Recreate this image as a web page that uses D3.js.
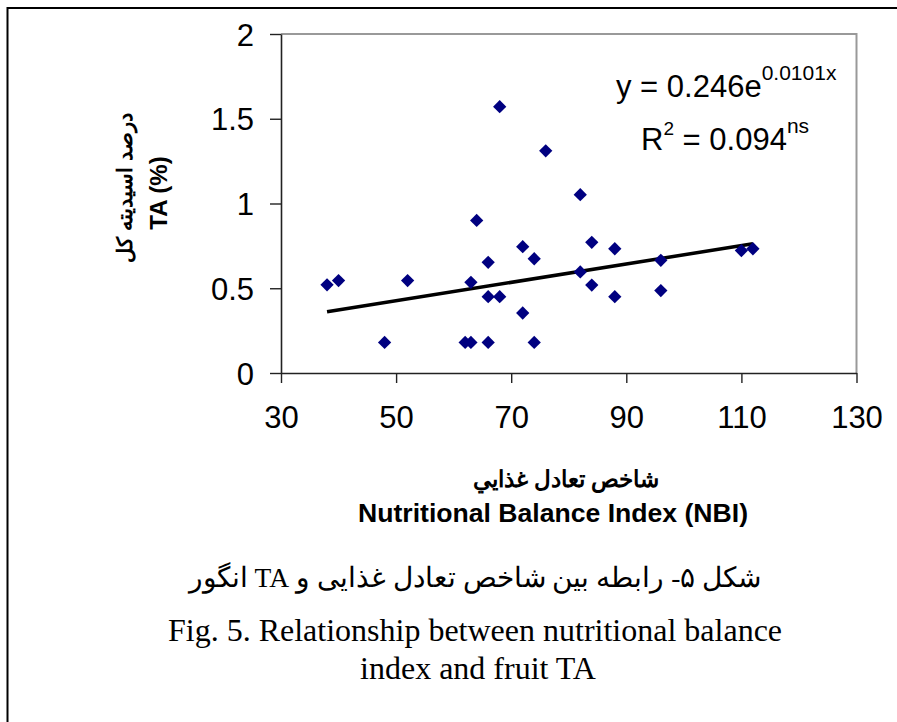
<!DOCTYPE html>
<html>
<head>
    <meta charset="utf-8">
    <title>NBI vs TA</title>
    <script src="https://d3js.org/d3.v7.min.js"></script>
    <style>
        body { margin: 0; background: #fff; }
        svg { display: block; }
    </style>
</head>
<body>
<svg width="897" height="722"></svg>
<script>
    const width = 897;
    const height = 722;

    // values
    const nbi = [38, 40, 48, 52, 62, 63, 63, 64, 66, 66, 66, 68, 68, 72, 72, 74, 74, 76,
                 82, 82, 84, 84, 88, 88, 96, 96, 110, 112];
    const ta  = [0.52, 0.545, 0.18, 0.545, 0.18, 0.18, 0.535, 0.90, 0.653, 0.45, 0.18, 1.571, 0.45, 0.745, 0.354, 0.674, 0.18, 1.311,
                 1.052, 0.596, 0.771, 0.519, 0.733, 0.45, 0.665, 0.486, 0.722, 0.733];
    const xTicks = [30, 50, 70, 90, 110, 130];
    const yTicks = [0, 0.5, 1, 1.5, 2];
    // fitted curve y = a * e^(b x)
    const fitA = 0.246;
    const fitB = 0.0101;

    const svg = d3.select("svg");

    // outer frame (left + top only are visible)
    svg.append("path")
        .attr("d", `M7.5,${height} V8 H${width}`)
        .attr("fill", "none")
        .attr("stroke", "#000")
        .attr("stroke-width", 2);

    const x = d3.scaleLinear().domain([30, 130]).range([281, 856.5]);
    const y = d3.scaleLinear().domain([0, 2]).range([373, 34]);

    // plot area border, top and right in grey
    svg.append("path")
        .attr("d", `M${x(30)},${y(2)} H${x(130)} V${y(0)}`)
        .attr("fill", "none")
        .attr("stroke", "#999")
        .attr("stroke-width", 2);

    const tickFont = "Arial, 'Liberation Sans', sans-serif";

    const xAxis = svg.append("g")
        .attr("transform", `translate(0,${y(0)})`)
        .call(d3.axisBottom(x).tickValues(xTicks).tickSize(10).tickSizeOuter(0).tickPadding(23));
    const yAxis = svg.append("g")
        .attr("transform", `translate(${x(30)},0)`)
        .call(d3.axisLeft(y).tickValues(yTicks).tickSize(11).tickSizeOuter(0).tickPadding(16)
            .tickFormat(d => d));

    [xAxis, yAxis].forEach(g => {
        g.select(".domain").attr("stroke", "#222").attr("stroke-width", 1.6);
        g.selectAll(".tick line").attr("stroke", "#222").attr("stroke-width", 1.4);
        g.selectAll(".tick text")
            .attr("fill", "#000")
            .style("font-family", tickFont)
            .style("font-size", "31px");
    });
    yAxis.selectAll(".tick text").attr("dy", "0.36em");

    // trend line, drawn between the fit values at the ends of the data range
    const xs = d3.extent(nbi);
    svg.append("path")
        .datum(xs)
        .attr("fill", "none")
        .attr("stroke", "#000")
        .attr("stroke-width", 3.5)
        .attr("d", d3.line().x(d => x(d)).y(d => y(fitA * Math.exp(fitB * d))));

    // diamond markers
    const diamond = d3.symbol(d3.symbolSquare, 88);
    svg.append("g")
        .selectAll("path")
        .data(d3.range(nbi.length))
        .join("path")
        .attr("d", diamond)
        .attr("fill", "#000080")
        .attr("transform", i => `translate(${x(nbi[i])},${y(ta[i])}) rotate(45)`);

    // equation
    const eq = svg.append("g").style("font-family", tickFont).attr("fill", "#000");
    const l1 = eq.append("text").attr("x", 616).attr("y", 97).style("font-size", "31px");
    l1.append("tspan").text("y = 0.246e");
    l1.append("tspan").attr("dy", -17).style("font-size", "21px").text("0.0101x");
    const l2 = eq.append("text").attr("x", 641).attr("y", 150).style("font-size", "31px");
    l2.append("tspan").text("R");
    l2.append("tspan").attr("dy", -15).style("font-size", "19px").text("2");
    l2.append("tspan").attr("dy", 15).text(" = 0.094");
    l2.append("tspan").attr("dy", -17).style("font-size", "21px").text("ns");

    // y axis title
    const yTitle = svg.append("g")
        .attr("transform", "translate(0,188) rotate(-90)")
        .style("font-family", tickFont)
        .style("font-weight", "bold")
        .attr("text-anchor", "middle")
        .attr("fill", "#000");
    yTitle.append("text").attr("x", 0).attr("y", 132)
        .attr("direction", "rtl")
        .style("font-size", "21px")
        .text("درصد اسیدیته کل");
    yTitle.append("text").attr("x", -5).attr("y", 167)
        .style("font-size", "24px")
        .text("TA (%)");

    // x axis title
    svg.append("text")
        .attr("x", 566).attr("y", 487)
        .attr("text-anchor", "middle")
        .attr("direction", "rtl")
        .style("font-family", tickFont)
        .style("font-weight", "bold")
        .style("font-size", "23px")
        .text("شاخص تعادل غذايي");
    svg.append("text")
        .attr("x", 553).attr("y", 522)
        .attr("text-anchor", "middle")
        .attr("textLength", 390)
        .attr("lengthAdjust", "spacingAndGlyphs")
        .style("font-family", tickFont)
        .style("font-weight", "bold")
        .style("font-size", "25px")
        .text("Nutritional Balance Index (NBI)");

    // caption, centred paragraph
    const serif = "'Times New Roman', 'Liberation Serif', serif";
    const capX = 475;
    svg.append("text")
        .attr("x", capX).attr("y", 587)
        .attr("text-anchor", "middle")
        .attr("direction", "rtl")
        .style("font-family", serif)
        .style("font-size", "27.5px")
        .text("شکل ۵- رابطه بین شاخص تعادل غذایی و TA انگور");
    svg.append("text")
        .attr("x", capX).attr("y", 641)
        .attr("text-anchor", "middle")
        .style("font-family", serif)
        .style("font-size", "32px")
        .text("Fig. 5. Relationship between nutritional balance");
    svg.append("text")
        .attr("x", capX + 3).attr("y", 679)
        .attr("text-anchor", "middle")
        .style("font-family", serif)
        .style("font-size", "32px")
        .text("index and fruit TA");
</script>
</body>
</html>
